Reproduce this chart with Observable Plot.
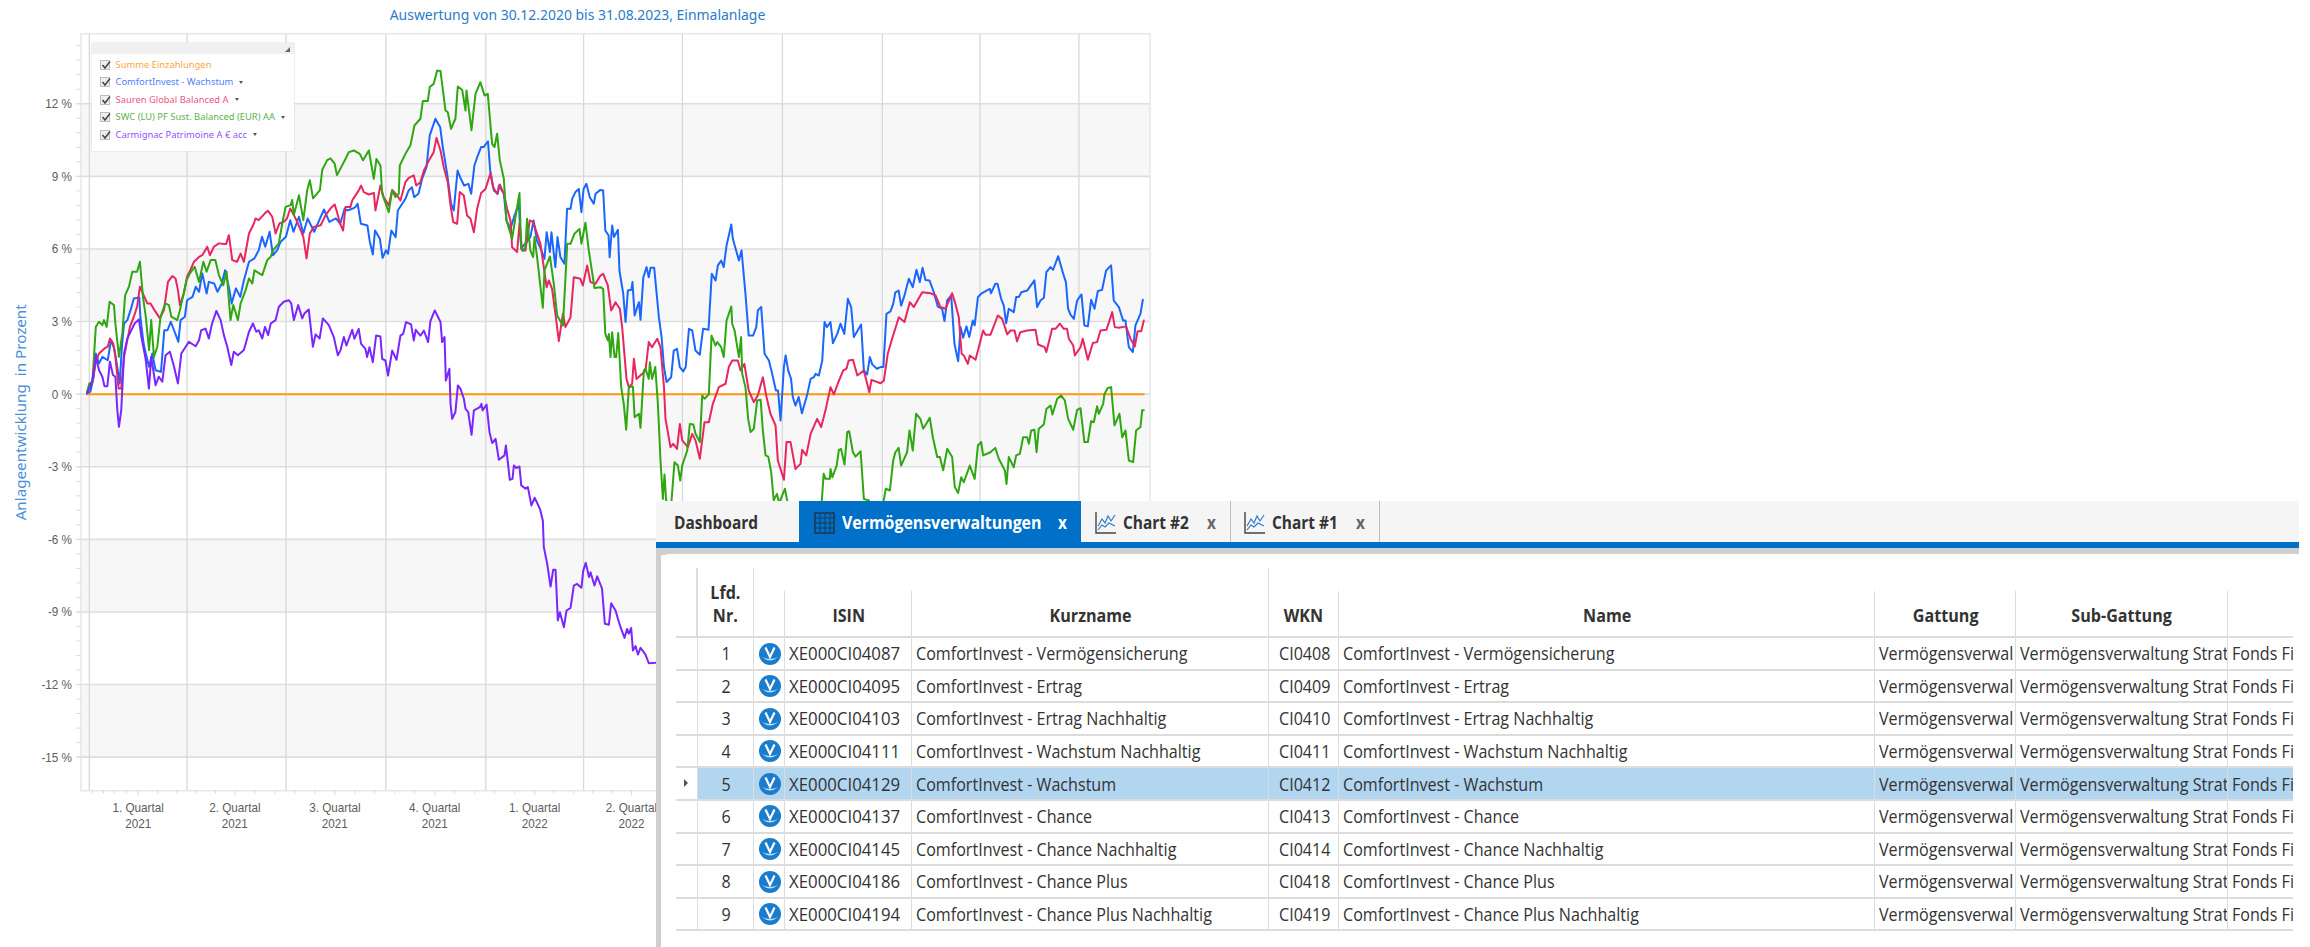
<!DOCTYPE html>
<html lang="de">
<head>
<meta charset="utf-8">
<script src="https://cdn.jsdelivr.net/npm/d3@7"></script>
<script src="https://cdn.jsdelivr.net/npm/@observablehq/plot@0.6"></script>
<style>
html,body{margin:0;padding:0;background:#fff;}
#page{position:relative;width:2310px;height:947px;overflow:hidden;background:#fff;font-family:"Open Sans",sans-serif;}
#chart{position:absolute;left:0;top:0;}
#title{position:absolute;left:0;top:3px;width:1155px;text-align:center;font:14.6px/22px "Noto Sans",sans-serif;color:#2b7cc7;white-space:nowrap;transform:scaleX(.955);transform-origin:577.5px 0;}
#legend{position:absolute;left:92px;top:43px;width:202px;height:108px;background:#fff;box-shadow:0 0 2px #cfcfcf;font:9.4px/12px "Noto Sans",sans-serif;}
#legend .head{height:11px;background:#f0f0f0;position:relative;}
#legend .grip{position:absolute;right:4px;top:4px;width:0;height:0;border-left:5px solid transparent;border-bottom:5px solid #666;}
#legend .row{position:absolute;left:8px;height:12px;white-space:nowrap;display:flex;align-items:center;}
#legend .box{width:10px;height:10px;background:#eee;border:1px solid #bdbdbd;margin-right:5.5px;position:relative;box-sizing:border-box;}
#legend .box svg{position:absolute;left:0;top:-1px;}
#legend .drop{display:inline-block;margin-left:6px;width:0;height:0;border-left:2.5px solid transparent;border-right:2.5px solid transparent;border-top:3px solid #555;}
#panel{position:absolute;left:656px;top:501px;right:11px;bottom:0;background:#fff;}
#band{position:absolute;left:0;right:0;top:0;height:41px;background:#f5f5f5;}
#bar{position:absolute;left:0;right:0;top:41px;height:5.5px;background:#0070c8;}
#strip{position:absolute;left:0;right:0;top:46.5px;height:7px;background:#cfcfcf;}
#lstrip{position:absolute;left:0;width:5px;top:46.5px;bottom:0;background:#cfcfcf;}
#sheet{position:absolute;left:5px;right:0;top:53px;bottom:0;background:#fff;border-top-left-radius:8px;}
.tab{position:absolute;top:0;height:41px;font-size:18.6px;font-weight:bold;line-height:41px;white-space:nowrap;color:#333;}
.tab span,.tab svg{position:absolute;top:0;}
.tab span{transform:scaleX(.83);transform-origin:0 0;}
.tab span.long{transform:scaleX(.855);}
.tab svg{top:10px;}
.tab .x{color:#666;}
.div{position:absolute;top:0;height:41px;width:1px;background:#bdbdbd;}
table{position:absolute;left:19.5px;top:68px;border-collapse:collapse;table-layout:fixed;font-size:17.5px;color:#333;}
th{font-weight:bold;height:68px;box-sizing:border-box;padding:0;text-align:center;vertical-align:bottom;line-height:22.5px;padding-bottom:10px;color:#333;position:relative;}
td{height:32.6px;box-sizing:border-box;padding:0;border-top:2px solid #dcdcdc;white-space:nowrap;overflow:hidden;position:relative;}
tr:last-child td{border-bottom:2px solid #dcdcdc;}
td.sel{background:#b2d5f0;}
td.l{padding-left:4px;}
td.w{padding-left:9.5px;}
td.c{text-align:center;}
.sep{border-left:1.5px solid #dcdcdc;}
th .vs{position:absolute;left:-1px;bottom:0;width:1.5px;background:#dcdcdc;}
.t{display:inline-block;transform:scaleX(.92);transform-origin:0 50%;}
.t.i{transform:scaleX(.96);}
td.c .t,th .t{transform-origin:50% 50%;}
</style>
</head>
<body>
<div id="page">
<div id="chart"></div>
<div id="title"></div>
<div id="legend"><div class="head"><div class="grip"></div></div></div>
<div id="panel">
  <div id="band"></div><div id="bar"></div><div id="strip"></div><div id="lstrip"></div><div id="sheet"></div>
</div>
</div>
<script>
// ---------- chart text ----------
const chartTitle = "Auswertung von 30.12.2020 bis 31.08.2023, Einmalanlage";
const yTitle = "Anlageentwicklung  in Prozent";
const legendNames = ["Summe Einzahlungen","ComfortInvest - Wachstum","Sauren Global Balanced A","SWC (LU) PF Sust. Balanced (EUR) AA","Carmignac Patrimoine A € acc"];
const quarterDates = ["2021-02-15","2021-05-15","2021-08-15","2021-11-15","2022-02-15","2022-05-15"];
const quarterLabels = ["1. Quartal\n2021","2. Quartal\n2021","3. Quartal\n2021","4. Quartal\n2021","1. Quartal\n2022","2. Quartal\n2022"];
const quarterStarts = ["2021-01-01","2021-04-01","2021-07-01","2021-10-01","2022-01-01","2022-04-01","2022-07-01","2022-10-01","2023-01-01","2023-04-01","2023-07-01"];
const yTicks = [-15,-12,-9,-6,-3,0,3,6,9,12];
const bandEdges = [[-15,-12],[-9,-6],[-3,0],[3,6],[9,12]];

// ---------- series: [days since 2021-01-01, percent] ----------
const einzahlungen = [[-2,0],[970.7,0]];
const comfort = [[-2,0.03],[1,0.10],[4,0.72],[6,1.68],[9,1.27],[12,1.54],[17,1.40],[20,2.23],[23,1.89],[26,1.06],[28,0.44],[30,1.96],[32,2.92],[35,3.06],[38,3.47],[41,3.95],[46,3.99],[47,3.20],[50,2.09],[52,1.68],[55,1.13],[58,1.68],[61,0.99],[66,0.92],[69,2.64],[72,2.64],[75,2.99],[78,2.64],[82,2.16],[84,3.06],[88,3.20],[90,3.88],[95,4.02],[98,4.44],[101,4.23],[104,4.99],[108,4.16],[110,4.64],[115,4.57],[118,4.23],[122,4.57],[125,5.12],[129,4.30],[131,3.75],[135,4.37],[139,4.02],[142,4.64],[147,5.47],[152,5.61],[156,5.95],[159,6.50],[162,6.09],[166,6.71],[169,5.74],[173,5.95],[176,6.29],[181,6.50],[185,7.19],[188,6.71],[193,7.33],[197,6.64],[201,7.26],[207,6.71],[211,7.12],[216,7.63],[221,7.12],[227,7.26],[231,7.04],
[235,7.66],[237.3,7.59],[242,7.66],[245,7.73],[247,7.87],[250,7.04],[256,6.97],[258,6.35],[261,5.77],[263,6.76],[267.5,6.42],[270,5.63],[273,5.94],[275,5.80],[278,6.76],[282,6.49],[284,7.59],[288,7.87],[291,8.07],[294,8.42],[297,8.55],[299,8.14],[303,8.28],[306.4,8.90],[310.4,9.38],[313.4,10.69],[318.6,11.38],[323,11.03],[325.4,10.21],[329.4,9.10],[333,7.87],[335.5,7.59],[339,9.24],[342,8.90],[345,8.62],[349,8.69],[351.5,8.28],[354.5,9.45],[357.6,9.86],[360.7,10.21],[363,10.21],[367,10.45],[369,9.24],[372.4,8.42],[376,8.28],[377,8.62],[381.6,8.28],[384,7.18],[387.7,6.83],[391.4,7.38],[395.4,7.87],[397.5,6.01],[406,6.49],[409,7.18],[412,6.35],[415,6.07],[419,5.59],[421,6.69],[424,5.87],[425.4,6.69],[429,5.25],[431,6.49],[433.7,5.66],[437.4,5.39],[439.8,7.66],[443,7.66],[444.5,8.07],[447.5,8.35],[450.6,8.48],[453,7.52],[455,8.48],[457.6,8.69],[460.7,8.14],[464.4,7.87],[466,8.28],[470.5,8.44],
[473,8.42],[475,6.76],[478,6.56],[479,5.66],[481.3,6.97],[483,6.49],[486.6,6.79],[488,5.11],[491.5,4.15],[493.6,2.98],[495.8,4.28],[499,4.31],[500,4.63],[502,3.25],[504.4,3.60],[506,3.80],[507.4,3.07],[510,4.83],[513,5.25],[515,4.83],[516.6,5.22],[520,5.22],[524.3,3.18],[526.8,2.36],[529,1.12],[531.4,0.50],[535.6,0.70],[538,1.80],[541,1.87],[543.6,1.12],[546.7,0.94],[549,1.12],[552,2.70],[555,2.63],[558,1.80],[562,1.63],[565,2.70],[570,2.66],[573,4.97],[576.5,4.70],[578.6,5.32],[581.7,5.52],[584,5.25],[586.6,6.14],[591,7.01],[592.4,6.42],[598,5.52],[600.4,5.94],[604,4.15],[607,2.42],[611,2.42],[614,2.77],[615.4,3.46],[618.5,3.60],[621.6,1.67],[625.6,1.39],[628.6,0.84],[632,0.15],[634,0.15],[636.3,-1.09],[639.4,1.12],[641,1.60],[643.3,0.98],[646,0.63],[647.6,-0.12],[650,-0.47],[653,-0.12],[656,-0.79],[661,0.01],[664,0.63],[667,0.70],[668.5,0.84],[671.6,0.77],[674.7,1.39],[676.8,2.98],[679,2.77],[682.3,2.98],[684.5,2.11],[688.5,2.49],[691.5,2.91],[695,2.49],[698.3,3.94],[701.3,3.60],[703.8,2.36],[710.5,2.88],[713,0.98],[716,0.81],[718.5,1.53],[720.7,1.23],[725,1.05],[728.3,1.12],
[731,1.12],[733.8,3.32],[737.5,3.42],[740,3.73],[742,4.21],[745,4.28],[747.3,3.66],[750.4,4.08],[754.4,4.77],[758,4.42],[761.4,5.14],[764.5,4.63],[767,5.22],[769.7,4.72],[773.4,4.70],[777.4,4.21],[781,3.62],[785,3.53],[787.2,3.02],[789.7,3.87],[793.4,4.08],[796.4,2.08],[799.8,1.36],[802,2.77],[804.4,2.33],[807.5,2.80],[810,2.36],[813.3,3.04],[815,2.84],[818,4.01],[821,4.15],[826,4.28],[829,4.35],[830,4.17],[834,4.56],[836,4.56],[839.4,3.94],[841.8,3.66],[844,2.93],[846.4,3.53],[851,3.39],[853.2,4.01],[855.6,4.01],[858,4.21],[863.3,4.28],[870,4.70],[872.5,3.60],[875.6,3.87],[878.7,3.98],[881,5.04],[884.8,5.25],[887.2,5.14],[891.9,5.70],[896.5,4.97],[899,4.63],[901,3.53],[903.2,3.29],[906.3,3.11],[909.3,3.87],[913.3,4.12],[916,2.84],[919.2,2.80],[922.2,3.90],[925.3,3.53],[928.4,4.26],[932.3,4.31],[936,5.11],[940.6,5.32],[943,3.87],[947.7,3.60],[951.7,3.04],[953.8,3.04],[956.9,1.94],[960.6,1.74],[963,2.84],[967.6,3.32],[969.8,3.90]];
const sauren = [[-2,0.03],[0,0.30],[3,0.51],[6,1.34],[9,1.68],[14,1.89],[17,1.96],[19,2.30],[22,2.09],[24,1.54],[27,0.23],[29.4,0.23],[32,1.54],[35,2.23],[37.4,2.78],[41,3.20],[44,3.61],[46.6,4.44],[50,4.09],[53.4,3.75],[56.4,3.75],[60,3.47],[65,3.13],[68.7,3.47],[72.4,4.64],[76.4,4.88],[79.4,4.78],[81.6,4.30],[83.4,3.68],[87,4.16],[90,4.85],[93,5.12],[96.3,5.47],[101,5.67],[104,5.74],[108.6,6.09],[111,5.74],[114.7,6.09],[119.3,6.23],[124,6.20],[126,6.20],[128.5,6.57],[131.6,5.54],[136,5.47],[139.3,5.81],[142.3,5.47],[147,6.64],[151.5,7.05],[153,7.26],[156,7.19],[162,7.49],[164.4,7.58],[168.4,7.33],[171.5,6.64],[175,7.05],[179,7.12],[182,7.26],[185,7.67],[188.3,7.40],[191.4,7.12],[197,6.50],[200,5.61],[203,6.64],[206.7,6.91],[213,6.98],[217.5,7.40],[222,7.67],[225.8,7.84],[228,7.53],[231,7.04],
[233.6,6.76],[235.8,7.73],[240.4,7.73],[242,8.0],[248,8.42],[250.2,8.62],[252.7,8.35],[257.3,8.25],[262,8.31],[263.4,7.59],[268,8.62],[271,8.14],[275.7,7.80],[278.8,8.44],[283.4,8.21],[286.4,8.0],[291,8.76],[294,8.94],[298.7,9.04],[301,8.62],[304.8,8.76],[308,9.24],[313.4,9.72],[317,10.0],[319.6,10.59],[323.3,10.07],[326.3,9.38],[330,8.76],[332.5,7.80],[335,7.11],[338.6,7.04],[341,8.35],[344.7,8.21],[347.8,7.38],[350.9,7.25],[354,6.69],[357,7.66],[360.7,8.31],[364.7,8.48],[369.3,9.13],[371.7,8.55],[375.4,8.28],[378,8.66],[381.6,8.28],[384.6,7.66],[387.7,7.18],[389.2,6.07],[393.8,5.87],[396,7.04],[398.4,5.94],[401.5,5.94],[405.5,7.18],[408.6,7.11],[412.2,6.63],[415.3,6.21],[417.5,5.52],[421,4.42],[423,4.70],[426,4.35],[429.1,3.32],[432.2,2.19],[436,3.32],[438.3,2.77],[443,3.18],[446,4.83],[452,4.77],[454.3,4.49],[458.3,5.32],[461.3,4.63],[466,4.56],[470.5,4.90],
[473,4.97],[477.3,4.49],[480.4,3.46],[484.4,3.80],[488.4,3.53],[490.5,2.77],[494.5,0.63],[496.7,0.29],[499.7,0.43],[501.3,1.46],[503.7,0.63],[509,0.84],[512,0.98],[515,2.15],[518,1.94],[522.8,2.29],[525.8,1.94],[529,0.29],[530.4,-1.02],[535,-2.19],[537.5,-2.05],[541,-2.26],[543.6,-1.23],[545.8,-1.91],[551,-2.19],[555,-1.64],[558,-1.91],[562,-2.67],[566.3,-1.16],[570.3,-1.16],[574,-0.40],[579.5,0.29],[585.7,0.43],[588.7,1.12],[591.8,1.39],[597,1.39],[599.5,0.98],[603,1.25],[607,0.15],[611.7,-0.33],[615.4,-0.06],[620,0.70],[623.4,-0.12],[627,-0.81],[631.7,-1.29],[633.8,-2.74],[639.4,-3.54],[641.8,-1.98],[645.5,-1.98],[650,-3.09],[654.7,-2.88],[656.2,-2.30],[660,-2.53],[664,-1.64],[670,-1.02],[673.7,-1.36],[677.7,-0.67],[682.3,0.29],[685.4,-0.01],[689,0.43],[694,0.98],[697,1.05],[699,1.39],[703,1.42],[707,0.77],[713,0.98],[718,0.08],[720,0.59],[728.3,0.45],
[731.4,0.56],[735,1.67],[739,2.29],[745.2,3.18],[750.4,2.98],[755.3,3.80],[759,3.60],[766.7,4.21],[774.3,4.17],[779,4.08],[783.5,3.60],[788,3.53],[794.3,4.17],[797.3,3.73],[800.4,3.18],[803,1.67],[805,1.60],[808.7,1.25],[810.5,1.60],[815.8,1.42],[820.4,2.22],[822.8,2.63],[825,2.45],[829.5,2.45],[836.3,3.25],[840.3,3.11],[845,2.47],[848,2.63],[851.7,2.63],[854,2.18],[857,2.56],[863.3,2.63],[871,2.66],[873.4,2.05],[879.3,1.94],[881,1.74],[886.3,2.70],[889.4,2.70],[893.4,2.91],[897,2.70],[900,2.70],[901.7,2.29],[905.7,2.01],[907.2,1.60],[912.4,1.94],[914.5,2.29],[919.2,1.42],[923.8,2.11],[927.7,2.15],[930.8,2.63],[936.3,2.66],[939,3.02],[941.6,3.39],[944,2.77],[947.7,2.74],[954.4,2.80],[958.4,2.29],[962.4,1.97],[965,2.60],[968.3,2.60],[970.7,3.04]];
const swc = [[-2,0.10],[0,0.44],[2.8,0.47],[6,2.78],[9,2.99],[12,2.85],[13.5,3.06],[16,2.78],[18.7,3.82],[22.7,3.68],[24,2.92],[27.3,1.54],[30.4,2.51],[33,4.09],[36.5,4.44],[39.6,5.06],[44,5.06],[46.6,5.47],[49.4,4.02],[52,3.20],[55,1.82],[57,3.06],[59.5,1.54],[62.6,1.96],[65.6,3.20],[70,3.75],[73.3,3.68],[75.5,3.20],[81,3.06],[83.4,3.47],[89.6,4.71],[92.6,4.99],[97,5.26],[101,4.64],[105,5.47],[108,5.06],[111.7,5.54],[116,5.54],[119.3,4.92],[123.3,4.50],[126.4,5.06],[130,3.06],[132.5,3.68],[136.8,3.06],[139.3,3.75],[143.9,4.30],[147,4.78],[150,4.57],[152,5.12],[159.2,4.92],[163.8,5.54],[166.9,5.67],[169.3,5.95],[174.5,6.23],[177.6,7.05],[180.7,7.74],[185.3,7.81],[186.8,8.02],[188.3,7.40],[193,8.22],[197,7.19],[200.6,8.43],[203,8.84],[206,8.09],[212.3,8.43],[214.4,9.26],[219,9.67],[222,9.74],[225.8,9.53],[228,9.05],[231.3,9.33],
[235.8,9.72],[238.9,10.0],[243.5,10.07],[249,9.93],[252,9.66],[257.3,10.07],[261.9,8.90],[264.3,9.72],[268,9.45],[269.6,8.28],[274,7.73],[275.7,7.52],[278.8,8.42],[281.8,8.14],[284.9,8.28],[285.8,9.45],[291,9.93],[295.6,10.28],[299.3,11.10],[304.8,11.38],[307,12.11],[311.6,12.11],[313.4,12.69],[317,12.82],[320.2,13.37],[323.3,13.35],[327.9,11.72],[330,11.65],[333,10.96],[337,11.38],[339.2,12.71],[343.2,12.58],[346.3,11.72],[347.2,12.55],[351.8,10.90],[355.5,12.41],[360,12.89],[363.8,12.34],[366.8,12.41],[370.8,10.34],[373,10.21],[375.4,10.76],[377.9,9.66],[381.6,8.90],[384,7.18],[389.2,6.42],[393.8,7.73],[396,8.31],[397.5,6.07],[399.4,5.94],[401.5,6.07],[403,7.25],[406,5.94],[408.6,5.66],[409.8,6.49],[412.2,5.66],[417.5,3.57],[419,5.11],[424,5.69],[427.6,4.56],[430.7,3.25],[436,2.84],[439,5.39],[439.9,6.21],[443,6.21],[446.6,6.63],[451.2,6.83],[453,6.21],[456.7,7.08],[459.8,5.94],[465,4.39],[470.5,4.42],
[473,4.35],[475,2.49],[477.3,2.22],[478.3,2.49],[479.8,1.53],[481.3,2.56],[483.5,1.53],[485,1.53],[486.9,2.53],[489.6,0.29],[492,-0.40],[494.2,-1.47],[496.7,0.29],[500.4,0.32],[502,-0.95],[506,-0.81],[507.4,-1.39],[510.5,0.98],[512,1.05],[515,0.63],[516,1.32],[518,0.63],[521,1.12],[523.4,-0.40],[525.8,-2.74],[528,-4.33],[529.5,-3.32],[531,-4.4],[535.6,-4.6],[538.7,-2.81],[541.8,-2.95],[544,-3.57],[545.8,-2.95],[550.4,-2.33],[552.8,-1.23],[556,-1.25],[558,-1.64],[562,-1.98],[564.2,-0.06],[566.3,-0.19],[570.3,-0.01],[572.8,2.42],[576.5,2.01],[578,2.15],[581.7,1.94],[584,1.53],[586.6,3.04],[591,3.62],[591.8,2.91],[594,2.63],[598,1.53],[600,2.36],[601,0.84],[604,0.29],[606.5,-1.02],[608.7,-1.57],[611.7,-1.43],[614.8,-0.26],[618,-0.23],[620,-1.50],[622.5,-2.53],[625,-2.58],[627.7,-3.22],[630,-4.39],[633,-4.12],[635,-4.5],[640.3,-3.91],[642.4,-4.39],[650,-5.5],[665,-5.8],[674,-4.6],[676,-3.29],[677.7,-3.50],[681.7,-3.50],[682.3,-3.09],[684,-3.43],[688,-2.95],[690,-2.30],[692,-2.26],[695.2,-2.91],[697.7,-1.57],[699.5,-1.53],[702.9,-2.40],[705.3,-2.58],[710,-2.36],[713,-4.33],[717.6,-4.39],[725,-5],[731,-4.46],
[733.2,-3.91],[737,-3.98],[740,-2.74],[742,-2.40],[745,-2.22],[747.3,-2.95],[752.8,-2.40],[755,-1.50],[758,-2.33],[761.1,-0.81],[765,-1.02],[767.6,-1.43],[773.7,-0.98],[776.5,-1.78],[780.5,-2.60],[783,-2.60],[786,-3.15],[789.7,-2.26],[794.3,-2.60],[796.7,-3.84],[799.8,-4.08],[802.6,-3.43],[805,-3.64],[810.5,-2.95],[815,-3.50],[818,-2.12],[821,-1.98],[822.8,-2.53],[829.5,-2.40],[834,-2.22],[837.2,-2.67],[842.8,-3.15],[844.3,-3.71],[846.4,-2.60],[851,-3.02],[853.2,-2.53],[856.6,-2.47],[859.6,-1.78],[863.3,-1.78],[864.9,-2.05],[867,-1.50],[870,-1.47],[872,-2.40],[874,-1.43],[878.7,-1.25],[881,-0.61],[884.8,-0.47],[886.6,-0.84],[891,-0.19],[894.6,-0.06],[898,-0.26],[901,-1.01],[905.7,-1.47],[909.3,-0.65],[912.4,-0.58],[916,-1.98],[919.2,-1.98],[922.2,-1.12],[924.7,-1.16],[927.7,-0.50],[929.3,-0.81],[933.3,-0.40],[934.5,0.01],[937.6,0.26],[940.6,0.29],[943.7,-1.29],[948.3,-0.81],[950.8,-1.78],[953.8,-1.50],[956.9,-2.74],[960.9,-2.81],[963.6,-1.50],[967.6,-1.36],[969.2,-0.67],[970.7,-0.67]];
const carmignac = [[-2,0.06],[0,0.23],[2.8,0.58],[6,1.54],[9,0.99],[12,0.72],[14,0.33],[16.6,0.33],[19,1.34],[21.8,0.79],[24,0.72],[25.8,-0.66],[27.3,-1.35],[29.4,-0.66],[32,1.68],[35,2.30],[38,2.58],[41.7,2.92],[45.7,3.09],[47.9,2.37],[51.8,1.47],[54.9,0.23],[57,1.54],[61,0.37],[64,0.72],[67.2,0.51],[70.2,1.61],[74.2,1.75],[78,1.13],[81.6,0.44],[84.7,1.68],[88.7,1.96],[91.7,2.16],[97.9,1.98],[101,2.23],[103,2.64],[107,2.71],[110,2.30],[113,2.92],[117,3.44],[120.9,3.06],[123.9,2.44],[127,1.96],[130.7,1.20],[133,1.75],[136.8,1.61],[142.3,1.82],[147,2.58],[150.6,2.92],[153.7,2.58],[156,2.64],[159.2,2.30],[161.7,2.78],[164.7,2.44],[167,2.92],[171.5,3.06],[174.5,3.61],[179,3.82],[183.7,3.88],[185.9,3.75],[188.3,3.06],[192.3,3.68],[196,3.13],[198,3.33],[202,3.50],[205.8,1.96],[208.3,2.47],[212,2.30],[215,3.13],[220.5,2.85],[225,2.37],[228.8,1.61],[231.3,1.82],
[234.3,2.36],[236.7,2.01],[242,2.66],[244,2.29],[248,2.70],[250.2,2.08],[254.2,1.87],[255.7,1.53],[257.9,1.94],[261,1.32],[264,2.42],[268,2.38],[269.6,1.46],[272.6,1.39],[275,0.77],[278.8,1.80],[282.8,1.42],[286.4,2.42],[288.9,2.49],[291.6,2.98],[296.2,2.88],[298.7,2.22],[300.5,2.66],[304.8,2.42],[308,2.63],[311.9,2.15],[314,3.02],[318,3.46],[323.3,2.98],[324.8,2.15],[327,2.36],[328.2,0.56],[331.5,1.05],[332.5,-0.40],
[334,-1.02],[337,-0.74],[339.3,0.36],[341.7,0.22],[344.8,-0.19],[346.3,-0.61],[348.8,-0.74],[351.9,-1.68],[354,-0.67],[359.5,-0.54],[361,-0.40],[362,-0.67],[365.7,-0.43],[368.4,-1.57],[370.9,-2.02],[374,-1.85],[377,-2.71],[382.2,-2.53],[383.5,-2.12],[387.1,-3.54],[389.6,-3.50],[390.8,-2.95],[393,-3.05],[396,-2.99],[397.6,-3.77],[401.6,-3.91],[403.7,-3.84],[407,-4.60],[410,-4.28],[414.8,-4.74],[417.5,-5.22],[418.4,-6.32],[421.5,-7.01],[424.6,-7.95],[427,-7.26],[429.2,-7.26],[431.3,-9.35],[433.2,-9.01],[436.9,-9.63],[439.3,-8.94],[443,-8.83],[446,-7.91],[449,-7.84],[453,-8.0],[454.7,-7.29],[457,-6.97],[460,-7.56],[461.4,-7.36],[465,-7.91],[467.5,-7.53],[472,-8.04],[474.6,-9.49],[478.3,-9.53],[480.4,-8.64],[484.4,-8.94],[486.6,-9.28],[489,-9.63],[492.7,-10.07],[495,-9.70],[496.7,-9.90],[498.8,-9.66],[500.4,-10.59],[502.8,-10.41],[505,-10.76],[507.4,-10.48],[512,-10.76],[515,-11.12],[521.2,-11.10],[526,-11.05]];
const lineColors = ["#ff9a12","#1a66ff","#e8265f","#2fa712","#7a26ff"];
const legendColors = ["#ffa63d","#4f7fff","#ef5582","#5cb34c","#9152ff"];

// ---------- table ----------
const tabs = ["Dashboard","Vermögensverwaltungen","Chart #2","Chart #1"];
const headers = ["","Lfd.\nNr.","","ISIN","Kurzname","WKN","Name","Gattung","Sub-Gattung",""];
const isin = ["XE000CI04087","XE000CI04095","XE000CI04103","XE000CI04111","XE000CI04129","XE000CI04137","XE000CI04145","XE000CI04186","XE000CI04194"];
const kurz = ["ComfortInvest - Vermögensicherung","ComfortInvest - Ertrag","ComfortInvest - Ertrag Nachhaltig","ComfortInvest - Wachstum Nachhaltig","ComfortInvest - Wachstum","ComfortInvest - Chance","ComfortInvest - Chance Nachhaltig","ComfortInvest - Chance Plus","ComfortInvest - Chance Plus Nachhaltig"];
const wkn = ["CI0408","CI0409","CI0410","CI0411","CI0412","CI0413","CI0414","CI0418","CI0419"];
const gattung = "Vermögensverwal", subGattung = "Vermögensverwaltung Strat", art = "Fonds Fi";
const colWidths = [21.9,56.6,31,126.7,357,70,536,141,212,65.6];

// ---------- chart ----------
const day = d => new Date(Date.UTC(2021,0,1) + d*864e5);
const rows = (name, arr) => arr.map(([d,v]) => ({date: day(d), value: v, name}));
const parsed = s => new Date(s + "T00:00:00Z");
const qd = quarterDates.map(parsed);
const minor = [day(3),day(13),day(23),day(34)];
qd.forEach((q,i) => { if (i < qd.length-1) d3.range(1,5).forEach(k => minor.push(new Date(+q + (qd[i+1]-q)*k/5))); });
const yMinor = d3.range(0,52).map(k => -15 + k*0.6).filter(v => v <= 14.8);
const axisFont = '"Liberation Sans",sans-serif';
const blank = () => "";

const plot = Plot.plot({
  width: 2310, height: 947,
  marginLeft: 80.5, marginRight: 1160.5, marginTop: 33.3, marginBottom: 156.7,
  style: {background: "transparent", overflow: "visible"},
  x: {type: "utc", domain: [day(-7.64), day(976.4)]},
  y: {domain: [-16.39, 14.89]},
  marks: [
    Plot.rect(bandEdges, {y1: d => d[0], y2: d => d[1], fill: "#f7f7f7"}),
    Plot.ruleY(yTicks, {stroke: "#dedede", strokeWidth: 1.6}),
    Plot.ruleX(quarterStarts.map(parsed), {stroke: "#d9d9d9", strokeWidth: 1.3}),
    Plot.frame({stroke: "#e2e2e2", strokeWidth: 1.2}),
    Plot.axisY(yMinor, {tickSize: 4, stroke: "#d8d8d8", tickFormat: blank, label: null}),
    Plot.axisY({ticks: yTicks, tickSize: 4, tickPadding: 5, stroke: "#d8d8d8", color: "#5d5d5d",
      fontFamily: axisFont, fontSize: 13.6, tickFormat: d => `${d} %`, label: null}),
    Plot.axisY({ticks: [], label: yTitle, labelAnchor: "center", labelArrow: "none", labelOffset: 66,
      color: "#4a8fd8", fontFamily: '"Noto Sans",sans-serif', fontSize: 15.2}),
    Plot.axisX(minor, {tickSize: 3, stroke: "#d8d8d8", tickFormat: blank, label: null}),
    Plot.axisX({ticks: qd, tickSize: 5, tickPadding: 5, stroke: "#d8d8d8", color: "#5d5d5d", fontFamily: axisFont, fontSize: 13.6,
      lineHeight: 1.16, tickFormat: (d,i) => quarterLabels[i], label: null}),
    ...[einzahlungen, comfort, sauren, swc, carmignac].map((s,i) =>
      Plot.line(rows(legendNames[i], s), {x: "date", y: "value", stroke: lineColors[i], strokeWidth: 2, curve: "linear", strokeLinejoin: "round"}))
  ]
});
document.getElementById("chart").append(plot);
document.getElementById("title").textContent = chartTitle;
// the reference's tick labels are narrower than any installed face
plot.querySelectorAll('[aria-label$="tick label"] text').forEach(txt => {
  const spans = txt.querySelectorAll("tspan");
  (spans.length ? [...spans] : [txt]).forEach(el => {
    const w = el.getComputedTextLength();
    if (w > 0) { el.setAttribute("textLength", w*0.86); el.setAttribute("lengthAdjust","spacingAndGlyphs"); }
  });
});

// ---------- legend ----------
const legend = document.getElementById("legend");
legendNames.forEach((n,i) => {
  const row = document.createElement("div");
  row.className = "row";
  row.style.top = (16 + i*17.4) + "px";
  row.innerHTML = `<span class="box"><svg width="10" height="10" viewBox="0 0 10 10"><path d="M1.5 5 L4 8 L9 1.5" fill="none" stroke="#444" stroke-width="1.5"/></svg></span><span style="color:${legendColors[i]}">${n}</span>` + (i ? '<span class="drop"></span>' : '');
  legend.append(row);
});

// ---------- tabs ----------
const band = document.getElementById("band");
const chartIcon = `<svg style="left:14px" width="21" height="24" viewBox="0 0 21 24"><path d="M1 1V22H21" fill="none" stroke="#444" stroke-width="1.4"/><path d="M3 15 L7 8 L10 12 L13 5 L16 10 L20 4" fill="none" stroke="#2b7cc7" stroke-width="1.2"/><path d="M3 19 L7 14 L10 16 L14 12 L20 15" fill="none" stroke="#2b7cc7" stroke-width="1.2"/></svg>`;
const gridIcon = `<svg style="left:15px" width="21" height="24" viewBox="0 0 21 24"><rect x="1" y="2" width="19" height="20" fill="none" stroke="#1c3a57" stroke-width="1.6"/><path d="M1 7H20M1 12H20M1 17H20M6 2V22M11 2V22M16 2V22" stroke="#1c3a57" stroke-width="1"/></svg>`;
band.innerHTML = `
 <div class="tab" style="left:18px"><span style="left:0">${tabs[0]}</span></div>
 <div class="tab" style="left:143px;width:282px;background:#0070c8;color:#fff;">${gridIcon}<span class="long" style="left:43px">${tabs[1]}</span><span style="left:259px;color:#fff;">x</span></div>
 <div class="tab" style="left:425px;width:149px;">${chartIcon}<span style="left:42px">${tabs[2]}</span><span class="x" style="left:126px">x</span></div>
 <div class="div" style="left:574px"></div>
 <div class="tab" style="left:574px;width:149px;">${chartIcon}<span style="left:42px">${tabs[3]}</span><span class="x" style="left:126px">x</span></div>
 <div class="div" style="left:723px"></div>`;

// ---------- table ----------
const vIcon = `<svg width="22" height="22" viewBox="0 0 22 22" style="position:absolute;left:4.5px;top:4.5px"><circle cx="11" cy="11" r="11" fill="#1a7ccb"/><path d="M3 14 Q11 21 19 14 Q11 18 3 14Z" fill="#bfe0f7"/><path d="M6.5 4.5 L11 14 L15.5 4.5" fill="none" stroke="#fff" stroke-width="2.2"/></svg>`;
let html = "<colgroup>" + colWidths.map(w => `<col style="width:${w}px">`).join("") + "</colgroup><thead><tr>";
const tallSep = new Set([1,2,5]);
headers.forEach((h,i) => {
  const sep = i === 0 ? "" : `<div class="vs" style="height:${tallSep.has(i) ? 68 : 45}px"></div>`;
  html += `<th>${sep}<span class="t">${h.replace("\n","<br>")}</span></th>`;
});
html += "</tr></thead><tbody>";
isin.forEach((code,i) => {
  const s = i === 4 ? " sel" : "";
  const tx = x => `<span class="t">${x}</span>`;
  const cells = [
    i === 4 ? '<span style="position:absolute;left:8px;top:11px;width:0;height:0;border-top:4.5px solid transparent;border-bottom:4.5px solid transparent;border-left:4px solid #555"></span>' : "",
    tx(i+1), vIcon, `<span class="t i">${code}</span>`, tx(kurz[i]), tx(wkn[i]), tx(kurz[i]), tx(gattung), tx(subGattung), tx(art)
  ];
  html += "<tr>" + cells.map((c,j) => {
    const cls = j === 0 ? "" : j === 1 ? `c sep${s}` : j === 2 ? `sep${s}` : j === 5 ? `w sep${s}` : `l sep${s}`;
    return `<td class="${cls}">${c}</td>`;
  }).join("") + "</tr>";
});
html += "</tbody>";
const t = document.createElement("table");
t.style.width = d3.sum(colWidths) + "px";
t.innerHTML = html;
document.getElementById("panel").append(t);
</script>
</body>
</html>
